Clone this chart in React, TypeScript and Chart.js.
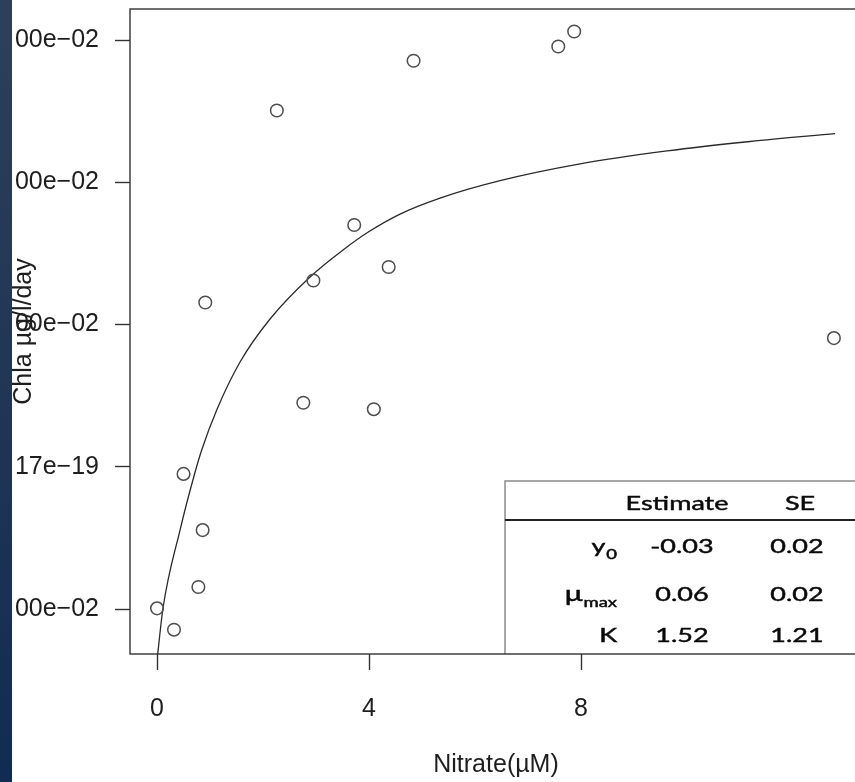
import { useEffect, useRef } from "react";
import { Chart, registerables } from "chart.js";

Chart.register(...registerables);

// Observed data (Nitrate µM vs Chla µg/l/day)
const nitrate = [0.0, 0.32, 0.78, 0.86, 0.5, 0.91, 2.26, 2.76, 2.95, 3.72, 4.09, 4.37, 4.84, 7.57, 7.87, 12.77];
const chla = [-0.0199, -0.0229, -0.0169, -0.0089, -0.001, 0.0231, 0.0501, 0.009, 0.0262, 0.034, 0.0081, 0.0281, 0.0571, 0.0591, 0.0612, 0.0181];

// Fitted curve
const fitX = [0, 0.113, 0.434, 0.708, 0.843, 1.126, 1.566, 2.132, 2.887, 3.509, 4.0, 4.585, 5.34, 6.472, 7.981, 9.623, 11.189, 12.792];
const fitY = [-0.0272, -0.01985, -0.00889, -0.00101, 0.00236, 0.00799, 0.01473, 0.02078, 0.02669, 0.03049, 0.03308, 0.03554, 0.03779, 0.04024, 0.0426, 0.04441, 0.04574, 0.04686];

// Axes
const xTickValues = [0, 4, 8];
const yTickValues = [-0.02, 0, 0.02, 0.04, 0.06];
const yTickLabels = ["00e\u221202", "17e\u221219", "00e\u221202", "00e\u221202", "00e\u221202"];
const xTitle = "Nitrate(\u00b5M)";
const yTitle = "Chla \u00b5g/l/day";

// Parameter table
const tableHeader = ["Estimate", "SE"];
const paramMain = ["y", "\u03bc", "K"];
const paramSub = ["0", "max", ""];
const estimates = ["-0.03", "0.06", "1.52"];
const stdErrors = ["0.02", "0.02", "1.21"];

const AXIS_FONT = { family: "'Liberation Sans', Arial, sans-serif", size: 25 };
const INK = "#1e1e1e";

function stretchedText(
  ctx: CanvasRenderingContext2D,
  text: string,
  x: number,
  y: number,
  align: CanvasTextAlign,
  font: string,
  sx: number
) {
  ctx.save();
  ctx.translate(x, y);
  ctx.scale(sx, 1);
  ctx.font = font;
  ctx.textAlign = align;
  ctx.textBaseline = "alphabetic";
  ctx.fillText(text, 0, 0);
  ctx.lineWidth = 0.45;
  ctx.strokeStyle = "#0a0a0a";
  ctx.strokeText(text, 0, 0);
  ctx.restore();
}

const tablePlugin = {
  id: "paramTable",
  afterDatasetsDraw(chart: any) {
    const ctx: CanvasRenderingContext2D = chart.ctx;
    const area = chart.chartArea;
    const left = 505;
    const top = 481;
    const bottom = area.bottom;
    const right = chart.width;
    ctx.save();
    ctx.fillStyle = "#ffffff";
    ctx.fillRect(left, top, right - left, bottom - top);
    ctx.strokeStyle = "#8a8a8a";
    ctx.lineWidth = 1.5;
    ctx.beginPath();
    ctx.moveTo(left, bottom);
    ctx.lineTo(left, top);
    ctx.lineTo(right, top);
    ctx.stroke();
    ctx.strokeStyle = "#222";
    ctx.lineWidth = 2;
    ctx.beginPath();
    ctx.moveTo(left, 520);
    ctx.lineTo(right, 520);
    ctx.stroke();

    ctx.fillStyle = "#0a0a0a";
    const f = "19px Lato, 'Open Sans', sans-serif";
    const fMu = "21px Lato, 'Open Sans', sans-serif";
    const fs = "13px Lato, 'Open Sans', sans-serif";
    const sx = 1.42;
    const colEst = 682;
    const colSE = 797;
    const labelRight = 617;
    stretchedText(ctx, tableHeader[0], 677, 510, "center", f, sx);
    stretchedText(ctx, tableHeader[1], 800, 510, "center", f, sx);
    const baselines = [553, 601, 642];
    for (let i = 0; i < paramMain.length; i++) {
      const b = baselines[i];
      const mainFont = i === 1 ? fMu : f;
      if (paramSub[i]) {
        ctx.save();
        ctx.font = fs;
        const subW = ctx.measureText(paramSub[i]).width * sx;
        ctx.restore();
        stretchedText(ctx, paramSub[i], labelRight, b + 6, "right", fs, sx);
        stretchedText(ctx, paramMain[i], labelRight - subW - 1, b, "right", mainFont, sx);
      } else {
        stretchedText(ctx, paramMain[i], labelRight, b, "right", mainFont, sx);
      }
      stretchedText(ctx, estimates[i], colEst, b, "center", f, sx);
      stretchedText(ctx, stdErrors[i], colSE, b, "center", f, sx);
    }
    ctx.restore();
  },
  afterDraw(chart: any) {
    const ctx: CanvasRenderingContext2D = chart.ctx;
    const a = chart.chartArea;
    ctx.save();
    ctx.strokeStyle = "#333";
    ctx.lineWidth = 1.4;
    ctx.strokeRect(a.left, a.top, a.right - a.left, a.bottom - a.top);
    ctx.restore();
  },
};

export default function App() {
  const canvasRef = useRef<HTMLCanvasElement | null>(null);

  useEffect(() => {
    const canvas = canvasRef.current;
    if (!canvas) return;
    const points = nitrate.map((x, i) => ({ x, y: chla[i] }));
    const curve = fitX.map((x, i) => ({ x, y: fitY[i] }));
    const chart = new Chart(canvas, {
      type: "scatter",
      data: {
        datasets: [
          {
            label: "Observed",
            data: points,
            showLine: false,
            pointRadius: 6.3,
            pointHoverRadius: 6.3,
            pointBorderWidth: 1.5,
            borderColor: "#4d4d4d",
            backgroundColor: "rgba(0,0,0,0)",
            pointStyle: "circle",
          },
          {
            label: "Fit",
            data: curve,
            showLine: true,
            pointRadius: 0,
            borderColor: "#2a2a2a",
            borderWidth: 1.3,
            cubicInterpolationMode: "monotone",
            fill: false,
          },
        ],
      },
      options: {
        responsive: false,
        animation: false,
        devicePixelRatio: 1,
        layout: { padding: { left: 0, top: 9, right: 38, bottom: 0 } },
        plugins: {
          legend: { display: false },
          tooltip: { enabled: false },
        },
        scales: {
          x: {
            type: "linear",
            min: -0.51,
            max: 13.3,
            afterBuildTicks: (scale: any) => {
              scale.ticks = xTickValues.map((v) => ({ value: v }));
            },
            afterFit: (scale: any) => {
              scale.height = 128;
              scale.paddingLeft = 0;
              scale.paddingRight = 0;
            },
            ticks: {
              color: INK,
              font: AXIS_FONT,
              padding: 24,
              maxRotation: 0,
              autoSkip: false,
              callback: (v: any) => String(v),
            },
            grid: {
              drawOnChartArea: false,
              drawTicks: true,
              tickLength: 16,
              tickColor: "#333",
              tickWidth: 1.4,
            },
            border: { display: false },
            title: {
              display: true,
              text: xTitle,
              color: INK,
              font: AXIS_FONT,
              padding: { top: 0, bottom: 2 },
            },
          },
          y: {
            type: "linear",
            min: -0.02632,
            max: 0.06437,
            afterBuildTicks: (scale: any) => {
              scale.ticks = yTickValues.map((v) => ({ value: v }));
            },
            afterFit: (scale: any) => {
              scale.width = 130;
              scale.paddingTop = 0;
              scale.paddingBottom = 0;
            },
            ticks: {
              color: INK,
              font: AXIS_FONT,
              padding: 16,
              autoSkip: false,
              callback: (_v: any, i: number) => yTickLabels[i],
            },
            grid: {
              drawOnChartArea: false,
              drawTicks: true,
              tickLength: 15,
              tickColor: "#333",
              tickWidth: 1.4,
            },
            border: { display: false },
            title: {
              display: true,
              text: yTitle,
              color: INK,
              font: AXIS_FONT,
              padding: { top: 9, bottom: 0 },
            },
          },
        },
      },
      plugins: [tablePlugin],
    });
    return () => chart.destroy();
  }, []);

  return (
    <div
      style={{
        position: "absolute",
        left: 0,
        top: 0,
        width: 855,
        height: 782,
        overflow: "hidden",
        background: "#ffffff",
      }}
    >
      <canvas
        ref={canvasRef}
        width={900}
        height={782}
        style={{ display: "block", width: 900, height: 782 }}
      />
      <div
        style={{
          position: "absolute",
          left: 0,
          top: 0,
          width: 12,
          height: 782,
          background: "linear-gradient(#2e4059, #112c52)",
        }}
      />
    </div>
  );
}
